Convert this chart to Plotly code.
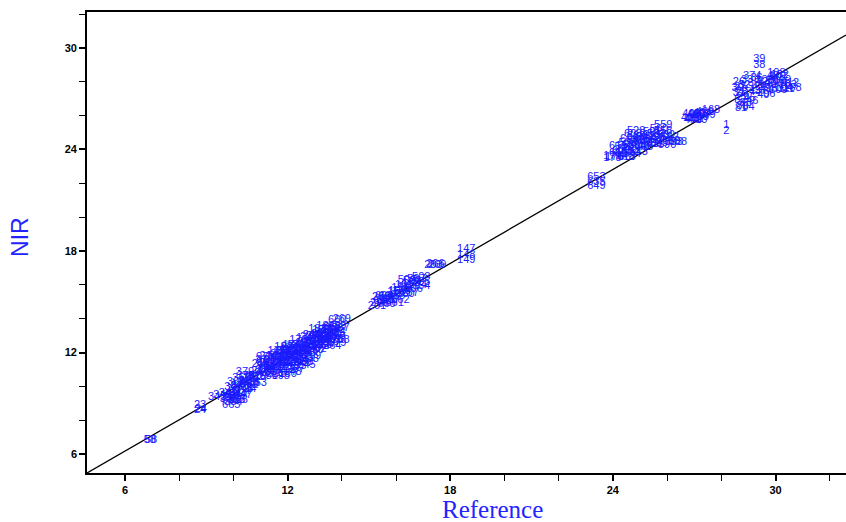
import plotly.graph_objects as go

# ---- data: sample IDs, reference values, NIR predictions ----
ids_main = [
    "58", "58", "23", "24", "24",
    "345", "34", "685", "665", "441", "92", "87", "313", "304", "8", "88", "71", "24", "26",
    "379", "376", "186", "18", "315", "90", "62", "301",
    "97", "96", "95", "630", "631", "93", "51", "55", "198", "194", "120", "121", "122", "54",
    "57", "148", "124", "125", "126", "130", "131", "132", "133", "134", "135", "136", "137",
    "138", "140", "141", "209", "208", "411", "412", "150", "151", "152", "153", "155", "156",
    "157", "160", "161", "579", "578", "24", "660", "689", "14", "162", "170", "171", "172",
    "173", "174", "175", "176", "177", "180", "182", "183", "184",
    "200", "201", "288", "664", "663", "662", "661", "15", "158", "159", "160", "161", "163",
    "508", "505", "54", "507", "506", "269", "263", "147", "148", "149",
    "653", "635", "649", "179", "178", "176", "606", "607", "528", "529", "530", "531", "532",
    "533", "540", "541", "542", "543", "544", "559", "558", "580", "581", "582", "583", "585",
    "588", "589", "590", "591",
    "400", "401", "402", "403", "404", "168", "169", "1", "2",
    "39", "38", "374", "26", "27", "28", "29", "81", "80", "46", "45", "44", "43", "42", "96",
    "95", "108", "107", "106", "105", "104", "168", "103", "102", "101", "100",
]
ref_main = [
    6.92, 6.96, 8.77, 8.77, 8.80,
    9.40, 9.72, 9.92, 9.92, 9.98, 10.05, 10.12, 10.18, 10.28, 10.32, 10.42, 10.50, 10.62, 10.58,
    10.43, 10.46, 10.20, 10.75, 10.88, 11.00, 10.70, 10.10,
    11.06, 11.06, 11.10, 11.30, 11.25, 11.35, 11.40, 11.50, 11.75, 11.60, 11.62, 11.70, 11.80, 11.85,
    11.92, 12.18, 12.00, 12.05, 12.10, 12.20, 12.25, 12.30, 12.35, 12.42, 12.48, 12.55, 12.60,
    12.62, 12.70, 12.75, 12.90, 12.82, 12.98, 12.90, 13.00, 13.08, 13.15, 13.20, 13.30, 13.38,
    13.45, 13.50, 13.58, 13.83, 13.75, 13.92, 13.83, 13.83, 13.70, 13.62, 11.20, 11.45, 11.95,
    12.40, 12.15, 11.60, 12.65, 13.25, 12.00, 11.85, 13.10, 13.40,
    15.38, 15.30, 15.45, 15.56, 15.62, 16.16, 15.95, 15.90, 16.16, 16.05, 16.35, 16.30, 16.55,
    16.93, 16.93, 17.04, 16.75, 16.65, 17.52, 17.38, 18.59, 18.59, 18.59,
    23.39, 23.39, 23.39, 23.98, 23.98, 24.05, 24.40, 24.55, 24.86, 24.86, 24.86, 24.70, 24.40,
    24.55, 25.00, 25.10, 25.20, 24.95, 24.70, 25.86, 25.86, 25.95, 25.60, 25.50, 25.35, 25.70,
    26.40, 26.15, 26.00, 25.45,
    26.90, 27.00, 27.10, 27.20, 27.30, 27.62, 27.45, 28.18, 28.18,
    29.40, 29.40, 29.14, 28.65, 28.70, 28.75, 28.80, 28.73, 28.78, 29.14, 29.05, 29.25, 29.35, 29.50, 29.77,
    29.85, 30.03, 30.10, 30.00, 30.20, 30.30, 30.62, 30.45, 30.15, 29.60, 29.70,
]
nir_main = [
    6.84, 6.79, 8.88, 8.59, 8.62,
    9.35, 9.22, 9.20, 8.90, 9.55, 9.75, 10.00, 9.40, 9.70, 10.15, 10.30, 9.95, 9.82, 10.45,
    10.82, 10.62, 9.15, 10.25, 10.55, 10.78, 10.05, 10.25,
    11.70, 11.45, 11.20, 10.62, 10.85, 11.55, 11.15, 11.80, 10.60, 10.90, 11.40, 11.65, 12.00, 11.25,
    11.55, 10.85, 11.90, 12.20, 11.40, 11.70, 12.05, 12.40, 11.20, 11.55, 11.90, 12.25, 12.55,
    11.45, 11.95, 12.30, 11.76, 11.60, 12.76, 12.45, 12.15, 12.60, 12.95, 12.35, 12.75, 13.10,
    12.50, 12.90, 13.35, 12.53, 12.80, 13.18, 13.88, 13.55, 13.30, 13.05, 11.00, 10.75, 10.95,
    12.70, 12.45, 12.05, 12.85, 13.30, 10.70, 12.30, 13.40, 13.55,
    14.94, 14.75, 15.25, 15.35, 15.10, 15.06, 14.90, 15.55, 15.82, 15.60, 15.45, 15.95, 16.10,
    16.47, 16.18, 15.94, 16.30, 15.75, 17.18, 17.15, 18.12, 17.76, 17.47,
    22.35, 22.06, 21.82, 23.59, 23.45, 23.55, 23.70, 23.55, 25.06, 24.76, 24.50, 24.25, 24.10,
    24.35, 24.10, 24.40, 24.70, 23.85, 23.70, 25.41, 25.10, 24.85, 24.90, 24.55, 24.30, 24.35,
    24.45, 24.50, 24.25, 25.00,
    26.05, 25.80, 26.10, 25.90, 26.15, 26.30, 26.00, 25.41, 25.06,
    29.35, 29.00, 28.30, 27.95, 27.65, 27.35, 27.10, 26.41, 26.55, 26.82, 27.05, 27.35, 27.70, 27.95, 27.24,
    27.55, 28.53, 28.25, 28.00, 27.85, 27.60, 27.59, 27.80, 28.40, 28.10, 27.80,
]

# densely overlapping samples inside each cluster
ids_extra = [
    # cluster around 11-14
    "210", "211", "212", "213", "214", "215", "216", "217", "218", "219", "220", "221",
    "222", "223", "224", "225", "226", "227", "228", "229", "230", "231", "232", "233",
    "234", "235", "236", "237", "238", "239", "240", "241", "242", "243", "244", "245",
    "246", "247", "248", "249", "250", "251", "252", "253", "254", "255", "256", "257",
    "258", "259", "260", "261", "262", "263", "264", "265", "266", "267", "268", "269",
    # cluster around 9-11
    "340", "341", "342", "343", "344", "346", "347", "348", "349", "350", "351", "352",
    "353", "354", "355", "356",
    # cluster around 15-17
    "665", "666", "667", "668", "155", "156", "157", "503", "504", "509", "660", "266",
    # cluster around 24-26
    "600", "601", "602", "603", "604", "605", "608", "609", "610", "611", "560", "561",
    "592", "593", "612", "613", "614", "615",
    # cluster around 27
    "405", "406", "407", "408", "409", "410",
    # cluster around 29-30
    "30", "31", "32", "33", "34", "35", "36", "37", "40", "41", "47", "48", "109", "110",
    "111", "112", "82", "83", "84",
]
ref_extra = [
    11.00, 11.00, 11.15, 11.15, 11.30, 11.30, 11.30, 11.45, 11.45, 11.55, 11.55, 11.55,
    11.70, 11.70, 11.80, 11.80, 11.90, 11.90, 12.00, 12.00, 12.10, 12.10, 12.10, 12.20,
    12.20, 12.30, 12.30, 12.30, 12.40, 12.40, 12.50, 12.50, 12.60, 12.60, 12.70, 12.70,
    12.80, 12.80, 12.90, 12.90, 13.00, 13.00, 13.10, 13.10, 13.20, 13.20, 13.30, 13.30,
    13.45, 13.45, 13.55, 13.55, 13.65, 13.65, 13.65, 13.80, 13.80, 13.95, 13.95, 14.00,
    9.60, 9.80, 9.85, 10.00, 10.15, 10.25, 10.35, 10.40, 10.50, 10.60, 10.65, 10.80,
    10.90, 10.00, 10.10, 10.30,
    15.50, 15.70, 15.80, 16.00, 16.20, 16.40, 16.50, 16.60, 16.80, 16.40, 15.65, 17.45,
    24.30, 24.50, 24.60, 24.75, 24.90, 25.05, 25.15, 25.30, 25.40, 25.55, 25.70, 25.80,
    26.10, 26.25, 24.20, 24.50, 24.65, 24.20,
    26.85, 27.05, 27.25, 27.40, 26.95, 27.15,
    28.60, 28.65, 28.85, 28.95, 29.00, 29.20, 29.30, 29.45, 29.55, 29.65, 29.80, 29.90,
    30.10, 30.25, 30.40, 30.55, 28.70, 28.90, 29.00,
]
nir_extra = [
    10.90, 11.30, 11.55, 10.95, 11.00, 11.35, 11.75, 11.50, 11.10, 11.70, 11.25, 10.70,
    11.10, 11.90, 11.35, 11.80, 12.10, 11.70, 11.45, 12.05, 11.15, 11.80, 12.30, 12.15,
    11.40, 11.65, 12.00, 11.00, 12.20, 11.80, 12.45, 11.35, 12.10, 11.70, 12.60, 11.25,
    12.10, 12.90, 12.25, 13.00, 12.40, 12.95, 12.20, 12.85, 12.70, 13.10, 12.45, 13.00,
    12.80, 13.30, 12.60, 13.15, 12.80, 13.50, 12.35, 13.10, 12.95, 13.45, 12.70, 13.95,
    9.45, 9.60, 9.35, 9.95, 9.55, 10.00, 9.45, 9.85, 10.25, 10.10, 10.60, 10.55,
    10.20, 9.05, 9.20, 10.45,
    15.00, 15.30, 15.10, 15.30, 15.60, 15.75, 15.50, 16.20, 16.00, 16.25, 14.85, 17.20,
    23.90, 24.00, 24.60, 24.90, 24.20, 24.60, 24.15, 24.55, 24.75, 24.30, 25.20, 24.65,
    24.70, 24.45, 23.75, 23.55, 23.85, 24.20,
    25.85, 26.00, 26.10, 26.20, 25.70, 25.75,
    27.60, 27.30, 27.80, 28.10, 27.50, 27.90, 28.20, 27.45, 27.20, 27.55, 27.90, 28.30,
    27.50, 28.10, 27.55, 27.90, 26.90, 26.70, 26.50,
]

sample_ids = ids_main + ids_extra
reference = ref_main + ref_extra
nir = nir_main + nir_extra

# fitted calibration line end points
line_x = [4.6, 32.6]
line_y = [4.88, 30.76]

x_range = [4.6, 32.6]
y_range = [4.88, 32.12]

fig = go.Figure()

fig.add_trace(go.Scatter(
    x=line_x, y=line_y, mode="lines",
    line=dict(color="black", width=1.3),
    hoverinfo="skip", showlegend=False,
))

fig.add_trace(go.Scatter(
    x=reference, y=nir, mode="text", text=sample_ids,
    textposition="middle center",
    textfont=dict(family="Liberation Sans, Arial, sans-serif", size=11, color="#1a1aff"),
    showlegend=False,
))

axis_common = dict(
    showgrid=False, zeroline=False,
    showline=True, linecolor="black", linewidth=1.6,
    ticks="outside", ticklen=6, tickwidth=1.6, tickcolor="black",
    tick0=0, dtick=6,
    tickfont=dict(family="Liberation Sans, Arial, sans-serif", size=11, color="black", weight="bold"),
    minor=dict(ticks="outside", dtick=2, tick0=0, ticklen=6, tickwidth=1.4, tickcolor="black"),
)

fig.update_xaxes(range=x_range, mirror=True, **axis_common)
fig.update_yaxes(range=y_range, mirror=False, **axis_common)

fig.add_annotation(
    text="NIR", xref="paper", yref="paper", x=-0.0883, y=0.512,
    xanchor="center", yanchor="middle",
    showarrow=False, textangle=-90,
    font=dict(family="Liberation Sans, Arial, sans-serif", size=23, color="#2323ff"),
)
fig.add_annotation(
    text="Reference", xref="paper", yref="paper", x=0.534, y=-0.080,
    xanchor="center", yanchor="middle",
    showarrow=False,
    font=dict(family="Liberation Serif, Times New Roman, serif", size=25, color="#2323ff"),
)

fig.update_layout(
    width=846, height=522,
    margin=dict(l=87, r=0, t=12, b=49),
    plot_bgcolor="white", paper_bgcolor="white",
)

fig.write_html(
    "out.html",
    config={"displayModeBar": False},
    post_script="document.body.style.margin='0px';document.documentElement.style.overflow='hidden';",
)
